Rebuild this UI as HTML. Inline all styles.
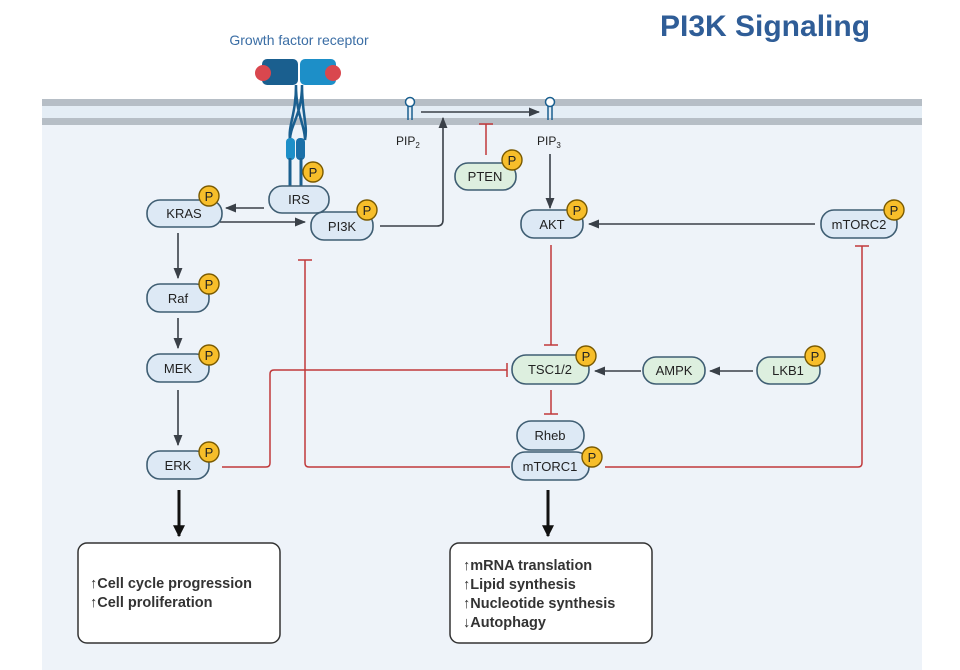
<!DOCTYPE html>
<html><head><meta charset="utf-8"><style>
body{margin:0;background:#fff}
svg{display:block}
text{font-family:"Liberation Sans",sans-serif}
</style></head><body>
<svg width="960" height="670" viewBox="0 0 960 670" xmlns="http://www.w3.org/2000/svg">
<defs>
<marker id="a" viewBox="0 0 10 10" refX="9" refY="5" markerWidth="7" markerHeight="7" orient="auto"><path d="M0,1 L10,5 L0,9 z" fill="#3a4048"/></marker>
<marker id="b" viewBox="0 0 10 10" refX="9" refY="5" markerWidth="4" markerHeight="4" orient="auto"><path d="M0,0 L10,5 L0,10 z" fill="#111"/></marker>
</defs>
<rect x="42" y="100" width="880" height="570" fill="#eef3f9"/>
<rect x="42" y="99" width="880" height="7" fill="#b6bec6"/>
<rect x="42" y="106" width="880" height="12" fill="#e4edf5"/>
<rect x="42" y="118" width="880" height="7" fill="#b6bec6"/>
<text x="765" y="36" font-size="30" font-weight="bold" fill="#2f5d97" text-anchor="middle">PI3K Signaling</text>
<text x="299" y="45" font-size="14" fill="#3b6ea5" text-anchor="middle">Growth factor receptor</text>
<!-- receptor -->
<rect x="262" y="59" width="36" height="26" rx="5" fill="#1a5f8f"/>
<rect x="300" y="59" width="36" height="26" rx="5" fill="#1d8fc8"/>
<circle cx="263" cy="73" r="8" fill="#d9474e"/><circle cx="333" cy="73" r="8" fill="#d9474e"/>
<path d="M296,85 C296,115 288,125 290,140 M302,85 C302,115 308,125 305,140 M296,85 C296,115 305,125 305,140 M302,85 C302,115 290,125 290,140" stroke="#1a5f8f" stroke-width="2.5" fill="none"/>
<rect x="286" y="138" width="9" height="22" rx="4" fill="#1d8fc8"/><rect x="296" y="138" width="9" height="22" rx="4" fill="#1a6fa8"/>
<line x1="290" y1="158" x2="290" y2="188" stroke="#1a5f8f" stroke-width="3"/><line x1="301" y1="158" x2="301" y2="188" stroke="#1a5f8f" stroke-width="3"/>
<!-- PIP -->
<g stroke="#1a5f8f" stroke-width="1.5" fill="#fff"><circle cx="410" cy="102" r="4.5"/><path d="M408,106 L408,120 M412,106 L412,120" fill="none"/>
<circle cx="550" cy="102" r="4.5"/><path d="M548,106 L548,120 M552,106 L552,120" fill="none"/></g>
<text x="396" y="145" font-size="12" fill="#222">PIP<tspan font-size="8" dy="3">2</tspan></text>
<text x="537" y="145" font-size="12" fill="#222">PIP<tspan font-size="8" dy="3">3</tspan></text>
<g stroke="#3a4048" stroke-width="1.6" fill="none">
<line x1="421" y1="112" x2="539" y2="112" marker-end="url(#a)"/>
<path d="M380,226 L437,226 Q443,226 443,220 L443,118" marker-end="url(#a)"/>
<line x1="550" y1="154" x2="550" y2="208" marker-end="url(#a)"/>
<line x1="815" y1="224" x2="589" y2="224" marker-end="url(#a)"/>
<line x1="264" y1="208" x2="226" y2="208" marker-end="url(#a)"/>
<line x1="220" y1="222" x2="305" y2="222" marker-end="url(#a)"/>
<line x1="178" y1="233" x2="178" y2="278" marker-end="url(#a)"/>
<line x1="178" y1="318" x2="178" y2="348" marker-end="url(#a)"/>
<line x1="178" y1="390" x2="178" y2="445" marker-end="url(#a)"/>
<line x1="641" y1="371" x2="595" y2="371" marker-end="url(#a)"/>
<line x1="753" y1="371" x2="710" y2="371" marker-end="url(#a)"/>
</g>
<g stroke="#c0393b" stroke-width="1.5" fill="none">
<path d="M486,155 L486,124 M479,124 L493,124"/>
<path d="M551,245 L551,345 M544,345 L558,345"/>
<path d="M551,390 L551,414 M544,414 L558,414"/>
<path d="M222,467 L266,467 Q270,467 270,463 L270,374 Q270,370 274,370 L507,370 M507,363 L507,377"/>
<path d="M510,467 L309,467 Q305,467 305,463 L305,260 M298,260 L312,260"/>
<path d="M605,467 L858,467 Q862,467 862,463 L862,246 M855,246 L869,246"/>
</g>
<g stroke="#111" stroke-width="3"><line x1="179" y1="490" x2="179" y2="536" marker-end="url(#b)"/><line x1="548" y1="490" x2="548" y2="536" marker-end="url(#b)"/></g>
<!-- nodes -->
<g stroke="#3f5e73" stroke-width="1.6" font-size="13">
<rect x="147" y="200" width="75" height="27" rx="13" fill="#dde9f5"/>
<rect x="311" y="212" width="62" height="28" rx="13" fill="#dde9f5"/>
<rect x="269" y="186" width="60" height="27" rx="13" fill="#dde9f5"/>
<rect x="455" y="163" width="61" height="27" rx="13" fill="#ddefdf"/>
<rect x="521" y="210" width="62" height="28" rx="13" fill="#dde9f5"/>
<rect x="821" y="210" width="76" height="28" rx="13" fill="#dde9f5"/>
<rect x="147" y="284" width="62" height="28" rx="13" fill="#dde9f5"/>
<rect x="147" y="354" width="62" height="28" rx="13" fill="#dde9f5"/>
<rect x="147" y="451" width="62" height="28" rx="13" fill="#dde9f5"/>
<rect x="512" y="355" width="77" height="29" rx="14" fill="#ddefdf"/>
<rect x="643" y="357" width="62" height="27" rx="13" fill="#ddefdf"/>
<rect x="757" y="357" width="63" height="27" rx="13" fill="#ddefdf"/>
<rect x="517" y="421" width="67" height="29" rx="14" fill="#dde9f5"/>
<rect x="512" y="452" width="77" height="28" rx="13" fill="#dde9f5"/>
</g>
<g font-size="13" fill="#222" text-anchor="middle">
<text x="184" y="218">KRAS</text><text x="342" y="231">PI3K</text><text x="299" y="204">IRS</text>
<text x="485" y="181">PTEN</text><text x="552" y="229">AKT</text><text x="859" y="229">mTORC2</text>
<text x="178" y="303">Raf</text><text x="178" y="373">MEK</text><text x="178" y="470">ERK</text>
<text x="550" y="374">TSC1/2</text><text x="674" y="375">AMPK</text><text x="788" y="375">LKB1</text>
<text x="550" y="440">Rheb</text><text x="550" y="471">mTORC1</text>
</g>
<g stroke="#7a5a00" stroke-width="1.4" fill="#f7be2a">
<circle cx="313" cy="172" r="10"/><circle cx="209" cy="196" r="10"/><circle cx="367" cy="210" r="10"/>
<circle cx="512" cy="160" r="10"/><circle cx="577" cy="210" r="10"/><circle cx="894" cy="210" r="10"/>
<circle cx="209" cy="284" r="10"/><circle cx="209" cy="355" r="10"/><circle cx="209" cy="452" r="10"/>
<circle cx="586" cy="356" r="10"/><circle cx="815" cy="356" r="10"/><circle cx="592" cy="457" r="10"/>
</g>
<g font-size="13" fill="#222" text-anchor="middle">
<text x="313" y="177">P</text><text x="209" y="201">P</text><text x="367" y="215">P</text>
<text x="512" y="165">P</text><text x="577" y="215">P</text><text x="894" y="215">P</text>
<text x="209" y="289">P</text><text x="209" y="360">P</text><text x="209" y="457">P</text>
<text x="586" y="361">P</text><text x="815" y="361">P</text><text x="592" y="462">P</text>
</g>
<!-- boxes -->
<rect x="78" y="543" width="202" height="100" rx="9" fill="#fff" stroke="#333" stroke-width="1.5"/>
<rect x="450" y="543" width="202" height="100" rx="9" fill="#fff" stroke="#333" stroke-width="1.5"/>
<g font-size="14.5" font-weight="bold" fill="#333">
<text x="90" y="588">↑Cell cycle progression</text>
<text x="90" y="607">↑Cell proliferation</text>
<text x="463" y="570">↑mRNA translation</text>
<text x="463" y="589">↑Lipid synthesis</text>
<text x="463" y="608">↑Nucleotide synthesis</text>
<text x="463" y="627">↓Autophagy</text>
</g>
</svg>
</body></html>
